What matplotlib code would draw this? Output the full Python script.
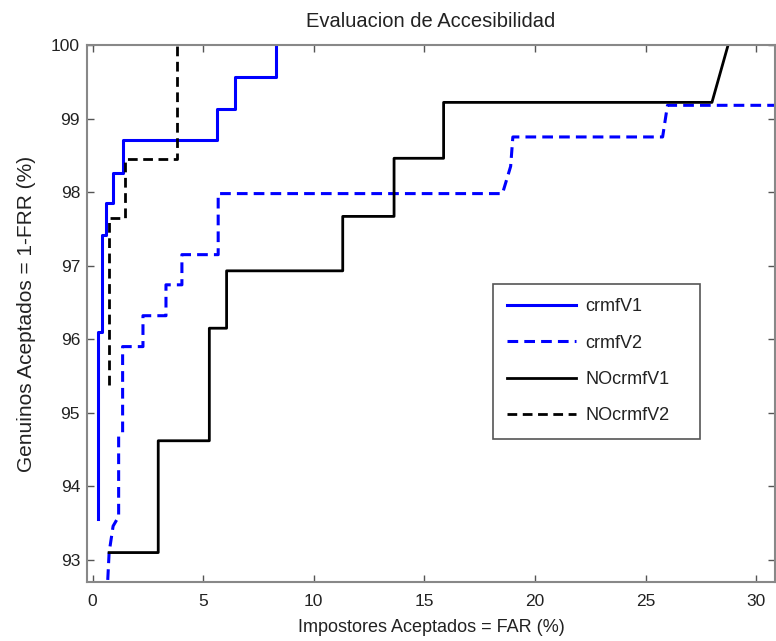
import matplotlib
matplotlib.use("Agg")
import matplotlib.pyplot as plt

plt.rcParams['font.family'] = ['Liberation Sans', 'DejaVu Sans']

title = "Evaluacion de Accesibilidad"
xlabel = "Impostores Aceptados = FAR (%)"
ylabel = "Genuinos Aceptados = 1-FRR (%)"
labels = ["crmfV1", "crmfV2", "NOcrmfV1", "NOcrmfV2"]

crmfV1_x = [0.24, 0.24, 0.45, 0.45, 0.63, 0.63, 0.92, 0.92, 1.37, 1.37, 5.63, 5.63, 6.44, 6.44, 8.3, 8.3]
crmfV1_y = [93.55, 96.1, 96.1, 97.42, 97.42, 97.85, 97.85, 98.26, 98.26, 98.71, 98.71, 99.13, 99.13, 99.57, 99.57, 100.0]

crmfV2_x = [0.65, 0.75, 0.93, 1.18, 1.18, 1.36, 1.36, 2.28, 2.28, 3.32, 3.32, 4.04, 4.04, 5.68, 5.68,
            18.53, 18.9, 19.0, 25.77, 25.99, 31.0]
crmfV2_y = [92.5, 93.1, 93.46, 93.59, 94.68, 94.73, 95.9, 95.9, 96.32, 96.32, 96.74, 96.74, 97.15, 97.15, 97.98,
            97.98, 98.35, 98.75, 98.75, 99.18, 99.18]

NOcrmfV1_x = [0.75, 2.97, 2.97, 5.28, 5.28, 6.06, 6.06, 11.31, 11.31, 13.63, 13.63, 15.87, 15.87, 28.0, 28.73]
NOcrmfV1_y = [93.1, 93.1, 94.62, 94.62, 96.15, 96.15, 96.93, 96.93, 97.67, 97.67, 98.46, 98.46, 99.22, 99.22, 100.0]

NOcrmfV2_x = [0.75, 0.75, 1.46, 1.46, 3.8, 3.8]
NOcrmfV2_y = [95.38, 97.65, 97.65, 98.45, 98.45, 100.0]

xticks = [0, 5, 10, 15, 20, 25, 30]
yticks = [93, 94, 95, 96, 97, 98, 99, 100]

fig = plt.figure(figsize=(7.76, 6.41), dpi=100)
ax = fig.add_axes([87/776, 59/641, 688/776, 537/641])

dash = (0, (3.5, 2))
ax.plot(crmfV1_x, crmfV1_y, color='#0000ff', lw=2.2, label=labels[0])
ax.plot(crmfV2_x, crmfV2_y, color='#0000ff', lw=2.2, ls=dash, label=labels[1])
ax.plot(NOcrmfV1_x, NOcrmfV1_y, color='black', lw=2.0, label=labels[2])
ax.plot(NOcrmfV2_x, NOcrmfV2_y, color='black', lw=2.0, ls=dash, label=labels[3])

ax.set_xlim(-0.25, 30.85)
ax.set_ylim(92.7, 100)
ax.set_xticks(xticks)
ax.set_yticks(yticks)
ax.tick_params(direction='in', top=True, right=True, length=5, width=1,
               labelsize=12.5, colors='#555555', labelcolor='#222222')
ax.tick_params(axis='x', pad=9)
ax.tick_params(axis='y', pad=5)
for s in ax.spines.values():
    s.set_color('#888888')
    s.set_linewidth(1.5)

ax.set_title(title, fontsize=14.5, color='#222222', pad=13)
ax.set_xlabel(xlabel, fontsize=13, color='#222222', labelpad=7)
ax.set_ylabel(ylabel, fontsize=15, color='#222222', labelpad=11)

leg = ax.legend(loc='upper left', bbox_to_anchor=(0.59, 0.355, 0.301, 0.2), mode='expand',
                borderaxespad=0,
                fontsize=13, handlelength=3.8, handletextpad=0.5, labelspacing=1.07,
                borderpad=0.8, fancybox=False, framealpha=1, edgecolor='#555555')
leg.get_frame().set_linewidth(1.2)
for t in leg.get_texts():
    t.set_color('#222222')

fig.savefig("out.png", dpi=100)
